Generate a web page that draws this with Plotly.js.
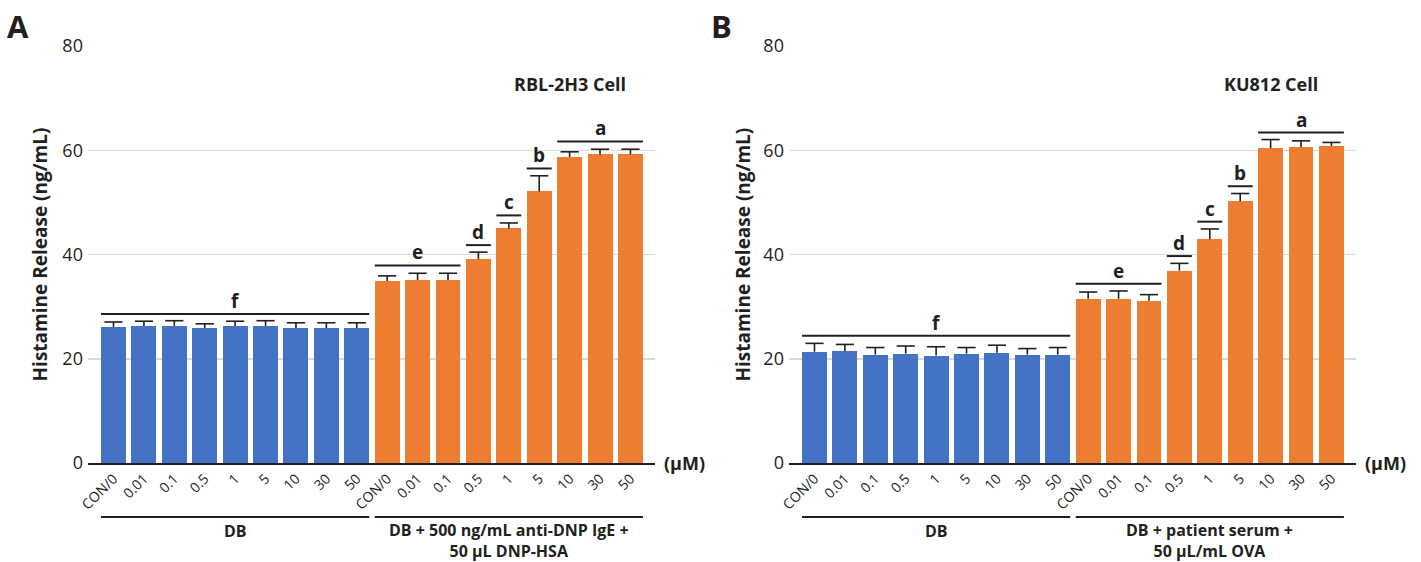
<!DOCTYPE html>
<html>
<head>
<meta charset="utf-8">
<script src="https://cdn.plot.ly/plotly-3.0.1.min.js"></script>
<style>html,body{margin:0;padding:0;background:#fff;}#chart{width:1421px;height:562px;}</style>
</head>
<body>
<div id="chart"></div>
<script>
// ---- data ----
const doses = ['CON/0', '0.01', '0.1', '0.5', '1', '5', '10', '30', '50'];
const tickLabels = doses.concat(doses);

// Panel A: RBL-2H3 Cell
const A_db = [26.1, 26.3, 26.3, 25.9, 26.3, 26.3, 25.9, 25.9, 25.9];
const A_db_err = [0.95, 0.9, 1.0, 0.8, 0.9, 1.0, 1.0, 1.0, 1.0];
const A_ige = [34.9, 35.1, 35.1, 39.1, 45.0, 52.1, 58.7, 59.2, 59.2];
const A_ige_err = [1.0, 1.3, 1.3, 1.35, 1.05, 3.0, 1.0, 1.0, 1.0];

// Panel B: KU812 Cell
const B_db = [21.35, 21.5, 20.8, 21.0, 20.6, 21.0, 21.15, 20.8, 20.8];
const B_db_err = [1.6, 1.25, 1.35, 1.45, 1.7, 1.15, 1.45, 1.15, 1.35];
const B_ova = [31.5, 31.5, 31.15, 36.9, 42.9, 50.2, 60.4, 60.6, 60.8];
const B_ova_err = [1.3, 1.5, 1.15, 1.4, 2.0, 1.5, 1.65, 1.2, 0.7];

// significance letters
const letters = ['f', 'e', 'd', 'c', 'b', 'a'];
const letterFrom = [0, 9, 12, 13, 14, 15];
const letterTo = [8, 11, 12, 13, 14, 17];
const A_letterY = [28.6, 37.9, 41.8, 47.5, 56.5, 61.7];
const B_letterY = [24.4, 34.4, 39.7, 46.3, 53.1, 63.4];

// group labels
const groupFrom = [0, 9];
const groupTo = [8, 17];
const A_groups = ['DB', 'DB + 500 ng/mL anti-DNP IgE +<br>50 µL DNP-HSA'];
const B_groups = ['DB', 'DB + patient serum +<br>50 µL/mL OVA'];

const panelTitles = ['RBL-2H3 Cell', 'KU812 Cell'];
const panelLetters = ['A', 'B'];
const yTitle = 'Histamine Release (ng/mL)';
const unitLabel = '(µM)';

// ---- build ----
const BLUE = '#4472c4', ORANGE = '#ed7d31', INK = '#231f20';
const FONT = 'Open Sans, Noto Sans, sans-serif';
const BW = 0.82;
const idx1 = doses.map((d, i) => i);
const idx2 = doses.map((d, i) => i + doses.length);

function barTrace(x, y, color, xa, ya) {
  return {
    type: 'bar', x: x, y: y, xaxis: xa, yaxis: ya, width: BW,
    marker: {color: color, line: {width: 0}},
    showlegend: false, hoverinfo: 'skip'
  };
}
// upper-only error bar: cap marker at mean+err, whisker down to the mean
function errTrace(x, y, err, xa, ya) {
  return {
    type: 'scatter', mode: 'markers', x: x, y: y.map((v, i) => v + err[i]), xaxis: xa, yaxis: ya,
    marker: {symbol: 'line-ew-open', size: 13, color: INK, line: {color: INK, width: 1.6}},
    error_y: {type: 'data', symmetric: false, array: err.map(() => 0), arrayminus: err,
      color: INK, thickness: 1.6, width: 0},
    cliponaxis: false, showlegend: false, hoverinfo: 'skip'
  };
}

const data = [
  barTrace(idx1, A_db, BLUE, 'x', 'y'),
  barTrace(idx2, A_ige, ORANGE, 'x', 'y'),
  barTrace(idx1, B_db, BLUE, 'x2', 'y2'),
  barTrace(idx2, B_ova, ORANGE, 'x2', 'y2'),
  errTrace(idx1, A_db, A_db_err, 'x', 'y'),
  errTrace(idx2, A_ige, A_ige_err, 'x', 'y'),
  errTrace(idx1, B_db, B_db_err, 'x2', 'y2'),
  errTrace(idx2, B_ova, B_ova_err, 'x2', 'y2')
];

const shapes = [], annotations = [];
const panels = [
  {xa: 'x', ya: 'y', ly: A_letterY, groups: A_groups, dom: [0.0619, 0.4610]},
  {xa: 'x2', ya: 'y2', ly: B_letterY, groups: B_groups, dom: [0.5552, 0.9543]}
];
panels.forEach((p, pi) => {
  letters.forEach((l, i) => {
    shapes.push({type: 'line', xref: p.xa, yref: p.ya,
      x0: letterFrom[i] - BW / 2, x1: letterTo[i] + BW / 2, y0: p.ly[i], y1: p.ly[i],
      line: {color: INK, width: 2}});
    annotations.push({xref: p.xa, yref: p.ya, x: (letterFrom[i] + letterTo[i]) / 2, y: p.ly[i],
      text: '<b>' + l + '</b>', showarrow: false, yanchor: 'middle', yshift: 13,
      font: {family: FONT, size: 19, color: INK}});
  });
  groupFrom.forEach((g, i) => {
    shapes.push({type: 'line', xref: p.xa, yref: 'paper',
      x0: g - BW / 2, x1: groupTo[i] + BW / 2, y0: -0.1295, y1: -0.1295,
      line: {color: INK, width: 2}});
    annotations.push({xref: p.xa, yref: 'paper', x: (g + groupTo[i]) / 2, y: i === 0 ? -0.163 : -0.187,
      text: '<b>' + p.groups[i] + '</b>', showarrow: false, yanchor: 'middle',
      font: {family: FONT, size: 16, color: INK}, align: 'center'});
  });
  annotations.push({xref: 'paper', yref: 'paper', x: p.dom[1] + 0.0049, y: 0, xanchor: 'left', yanchor: 'middle',
    text: '<b>' + unitLabel + '</b>', showarrow: false, font: {family: FONT, size: 18, color: INK}});
  annotations.push({xref: 'paper', yref: 'paper', x: pi === 0 ? 0.4419 : 0.9289, y: 0.909,
    xanchor: 'right', yanchor: 'middle', text: '<b>' + panelTitles[pi] + '</b>', showarrow: false,
    font: {family: FONT, size: 18, color: INK}});
  annotations.push({xref: 'paper', yref: 'paper', x: pi === 0 ? 0.0281 : 0.5222, y: 0.5,
    xanchor: 'center', yanchor: 'middle', textangle: -90, text: '<b>' + yTitle + '</b>', showarrow: false,
    font: {family: FONT, size: 19, color: INK}});
  annotations.push({xref: 'paper', yref: 'paper', x: pi === 0 ? 0.0127 : 0.5074, y: 1.048,
    xanchor: 'center', yanchor: 'middle', text: '<b>' + panelLetters[pi] + '</b>', showarrow: false,
    font: {family: FONT, size: 31, color: INK}});
});

function xAxis(dom, anchor) {
  return {domain: dom, anchor: anchor, range: [-0.84, 17.81], fixedrange: true,
    tickmode: 'array', tickvals: idx1.concat(idx2), ticktext: tickLabels, tickangle: -45,
    tickfont: {family: FONT, size: 14, color: INK}, ticks: '', showgrid: false, zeroline: false,
    showline: true, linecolor: INK, linewidth: 2};
}
function yAxis(anchor) {
  return {domain: [0, 1], anchor: anchor, range: [0, 80], tickvals: [0, 20, 40, 60, 80],
    showgrid: true, gridcolor: '#d9d9d9', gridwidth: 1.5, zeroline: false, showline: false,
    ticks: '', tickfont: {family: FONT, size: 18, color: INK}, ticklabelstandoff: 4};
}

const layout = {
  width: 1421, height: 562,
  margin: {l: 0, r: 0, t: 46, b: 99},
  paper_bgcolor: '#fff', plot_bgcolor: '#fff',
  bargap: 0,
  xaxis: xAxis(panels[0].dom, 'y'),
  yaxis: yAxis('x'),
  xaxis2: xAxis(panels[1].dom, 'y2'),
  yaxis2: yAxis('x2'),
  shapes: shapes,
  annotations: annotations
};

Plotly.newPlot('chart', data, layout, {displayModeBar: false, staticPlot: true});
</script>
</body>
</html>
